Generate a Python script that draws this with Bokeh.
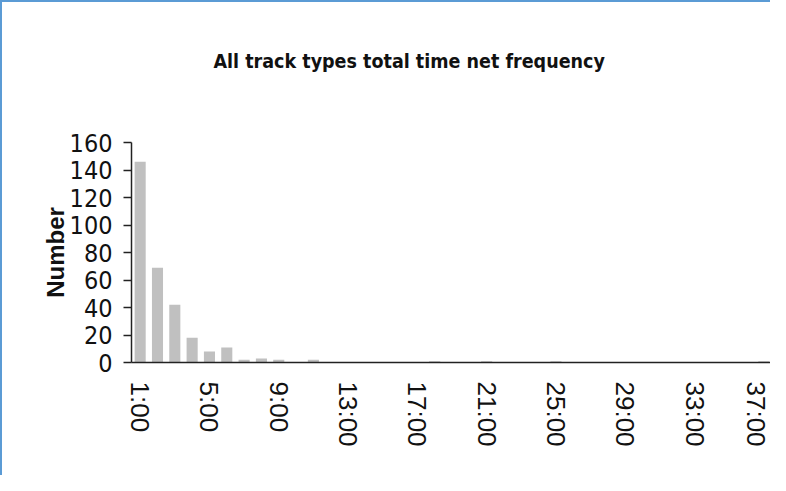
import math
from bokeh.plotting import figure
from bokeh.models import Title, FixedTicker, Range1d, ColumnDataSource
from bokeh.embed import file_html
from bokeh.resources import INLINE

categories = ["1:00", "2:00", "3:00", "4:00", "5:00", "6:00", "7:00", "8:00", "9:00", "10:00",
              "11:00", "12:00", "13:00", "14:00", "15:00", "16:00", "17:00", "18:00", "19:00", "20:00",
              "21:00", "22:00", "23:00", "24:00", "25:00", "26:00", "27:00", "28:00", "29:00", "30:00",
              "31:00", "32:00", "33:00", "34:00", "35:00", "36:00", "37:00"]
counts = [146, 69, 42, 18, 8, 11, 2, 3, 2, 0,
          2, 0, 0, 0, 0, 0, 0, 1, 0, 0,
          1, 0, 0, 0, 1, 0, 0, 0, 0, 0,
          0, 0, 0, 0, 0, 0, 1]
shown_labels = ["1:00", "5:00", "9:00", "13:00", "17:00", "21:00", "25:00", "29:00", "33:00", "37:00"]
y_ticks = [0, 20, 40, 60, 80, 100, 120, 140, 160]
title_text = "All track types total time net frequency"
y_label = "Number"

NARROW = "'Liberation Sans Narrow', 'DejaVu Sans Condensed', sans-serif"
REG = "'Liberation Sans', Arial, sans-serif"

# category slot numbers (1-based) used by the numeric x scale
slots = [categories.index(c) + 1 for c in categories]
source = ColumnDataSource(data=dict(slot=slots, category=categories, count=counts))

p = figure(x_range=Range1d(0.5, len(categories) + 0.5), y_range=(0, 160), width=770, height=475,
           output_backend="svg", toolbar_location=None,
           min_border_left=129, min_border_right=0, min_border_top=140, min_border_bottom=115)
p.styles = {"border-top": "2px solid #5B9BD5", "border-left": "2px solid #5B9BD5"}
p.outline_line_color = None
p.background_fill_color = "white"
p.border_fill_color = "white"
p.xgrid.grid_line_color = None
p.ygrid.grid_line_color = None

p.vbar(x="slot", top="count", width=0.64, source=source, fill_color="#C0C0C0", line_color=None)

# y axis
p.yaxis.ticker = FixedTicker(ticks=y_ticks)
p.yaxis.minor_tick_line_color = None
p.yaxis.major_tick_out = 8
p.yaxis.major_tick_in = 0
p.yaxis.axis_line_color = "#222222"
p.yaxis.axis_line_width = 1.5
p.yaxis.major_tick_line_color = "#222222"
p.yaxis.major_tick_line_width = 1.5
p.yaxis.major_label_text_font = NARROW
p.yaxis.major_label_text_font_size = "25px"
p.yaxis.major_label_text_color = "#111111"
p.yaxis.major_label_standoff = 11
p.yaxis.axis_label = y_label
p.yaxis.axis_label_text_font = REG
p.yaxis.axis_label_text_font_style = "bold"
p.yaxis.axis_label_text_font_size = "24px"
p.yaxis.axis_label_text_color = "#111111"
p.yaxis.axis_label_standoff = -2

# x axis: label every fourth slot
shown_slots = [categories.index(c) + 1 for c in shown_labels]
p.xaxis.ticker = FixedTicker(ticks=shown_slots)
p.xaxis.major_label_overrides = {s: c for s, c in zip(shown_slots, shown_labels)}
p.xaxis.minor_tick_line_color = None
p.xaxis.major_tick_line_color = None
p.xaxis.major_tick_out = 0
p.xaxis.major_tick_in = 0
p.xaxis.axis_line_color = "#222222"
p.xaxis.axis_line_width = 1.5
p.xaxis.major_label_orientation = -math.pi / 2
p.xaxis.major_label_text_font = REG
p.xaxis.major_label_text_font_size = "26px"
p.xaxis.major_label_text_color = "#111111"
p.xaxis.major_label_standoff = 19

# spacer between title and frame, then the title itself (outermost)
spacer = Title(text=" ", text_font_size="10px", standoff=52)
p.add_layout(spacer, "above")
p.title.text = title_text
p.title.align = "left"
p.title.offset = 82
p.title.text_font = NARROW
p.title.text_font_style = "bold"
p.title.text_font_size = "19.5px"
p.title.text_color = "#111111"

open("out.html", "w").write(file_html(p, INLINE))
